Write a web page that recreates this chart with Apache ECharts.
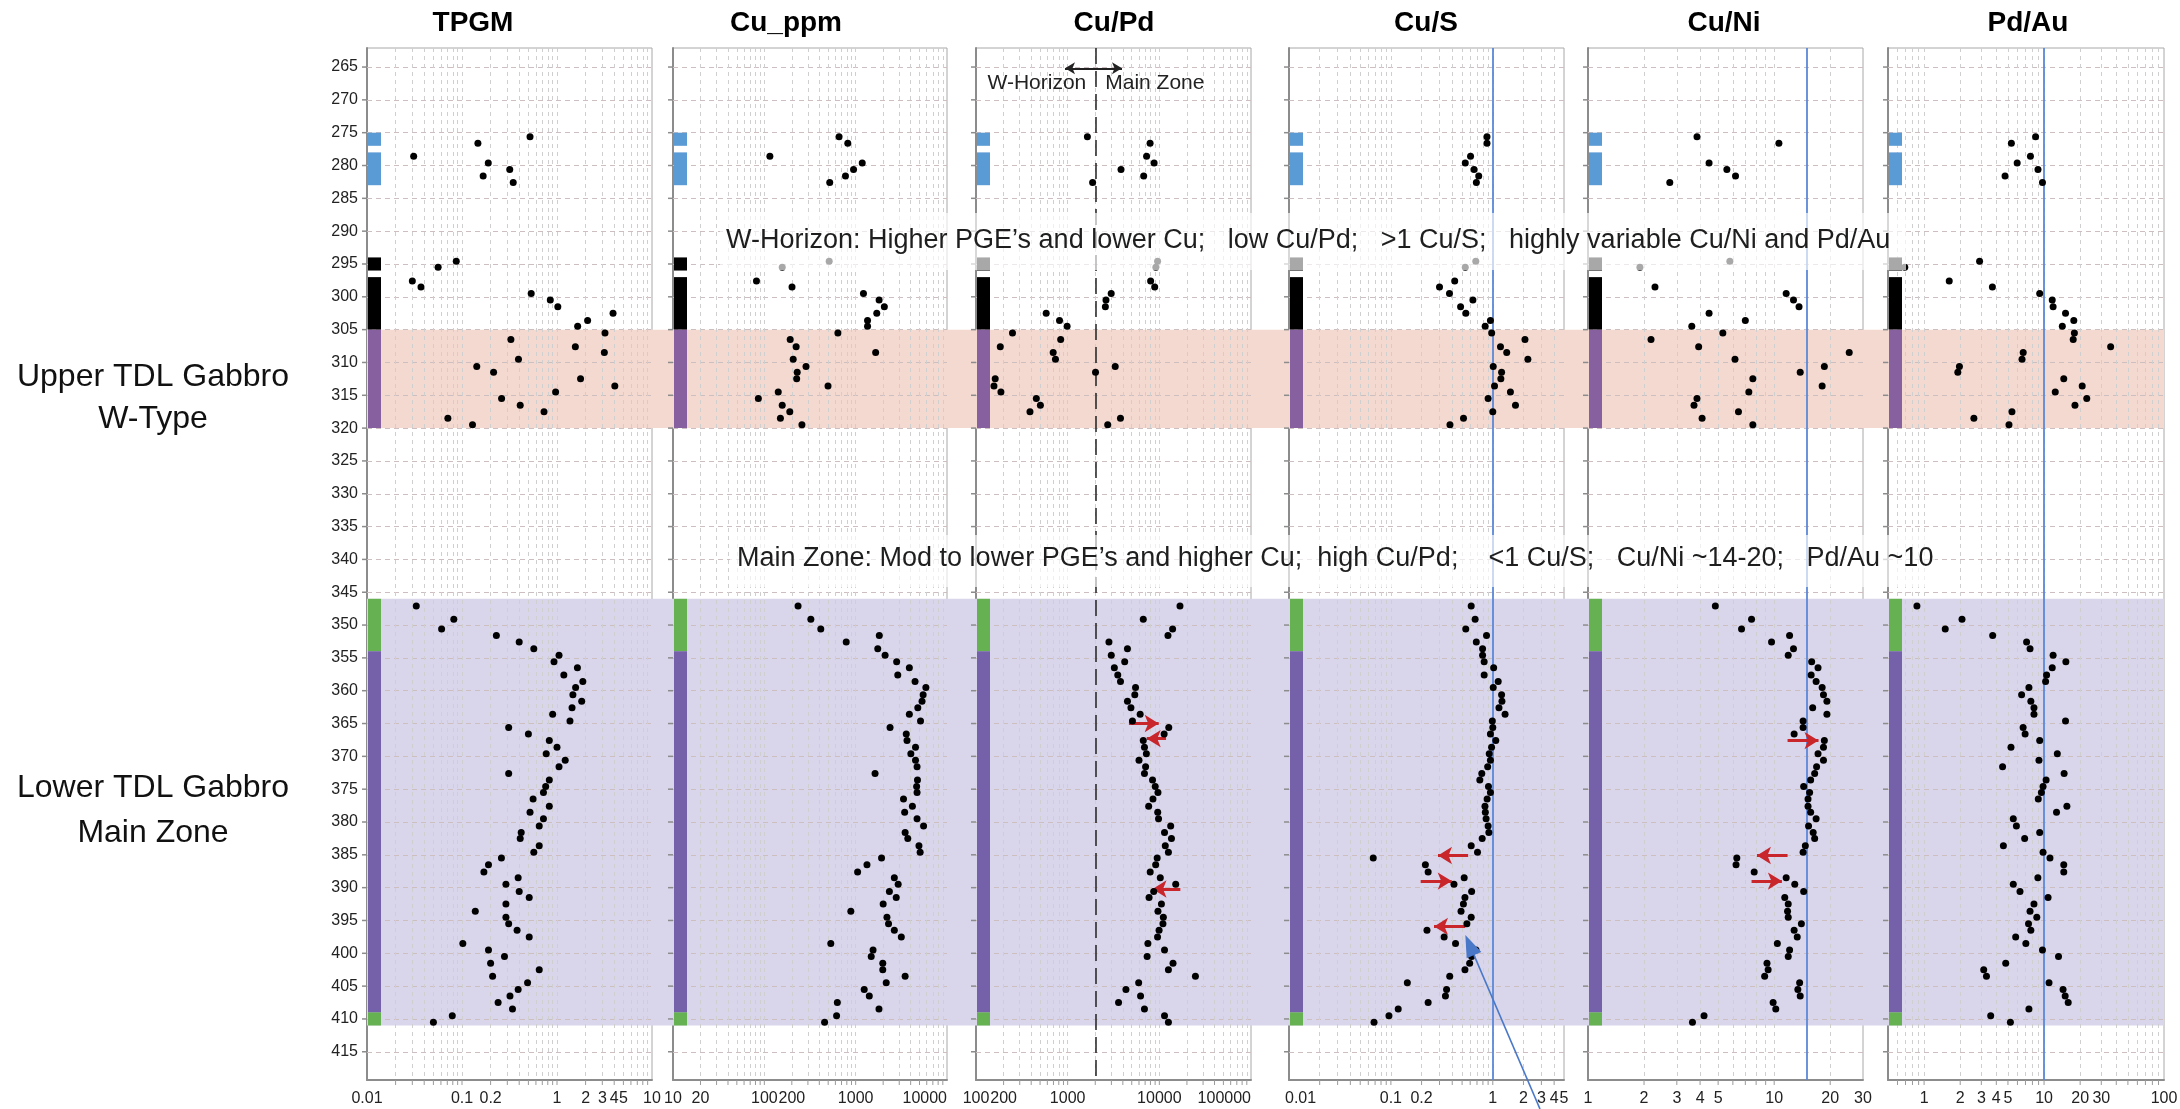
<!DOCTYPE html>
<html>
<head>
<meta charset="utf-8">
<title>TDL Gabbro geochemistry profiles</title>
<script src="https://cdn.jsdelivr.net/npm/echarts@6/dist/echarts.min.js"></script>
<style>
  html, body { margin: 0; padding: 0; background: #fff; }
  #main { width: 2180px; height: 1109px; }
</style>
</head>
<body>
<div id="main"></div>
<script>
// ---- data ----
const panelNames = ['TPGM', 'Cu_ppm', 'Cu/Pd', 'Cu/S', 'Cu/Ni', 'Pd/Au'];
const xMin = [0.01, 10, 100, 0.01, 1, 0.5];
const xMax = [10, 10000, 100000, 5, 30, 100];

const depthTicks = [265, 270, 275, 280, 285, 290, 295, 300, 305, 310, 315, 320, 325, 330, 335, 340,
  345, 350, 355, 360, 365, 370, 375, 380, 385, 390, 395, 400, 405, 410, 415];

const xTickLabels = [
  [0.01, 0.1, 0.2, 1, 2, 3, 4, 5, 10],
  [10, 20, 100, 200, 1000, 10000],
  [100, 200, 1000, 10000, 100000],
  [0.01, 0.1, 0.2, 1, 2, 3, 4, 5],
  [1, 2, 3, 4, 5, 10, 20, 30],
  [1, 2, 3, 4, 5, 10, 20, 30, 100]
];

// upper samples (W-horizon and above)
const upperDepth = [275.6, 276.6, 278.6, 279.6, 280.6, 281.6, 282.6, 294.6, 295.5, 297.6, 298.5,
  299.5, 300.5, 301.5, 302.5, 303.6, 304.5, 305.5, 306.5, 307.6, 308.5, 309.5, 310.6, 311.5,
  312.5, 313.6, 314.5, 315.5, 316.5, 317.5, 318.5, 319.5];
const tpgmUpper = [0.52, 0.147, 0.031, 0.189, 0.318, 0.167, 0.346, 0.087, 0.056, 0.030, 0.037,
  0.535, 0.85, 1.02, 3.89, 2.10, 1.65, 3.20, 0.327, 1.56, 3.15, 0.393, 0.143, 0.215, 1.77, 4.06,
  0.967, 0.261, 0.410, 0.73, 0.071, 0.129];
const cuUpper = [658, 820, 115, 1180, 948, 773, 520, 513, 157, 82, 201, 1217, 1806, 2060, 1702,
  1349, 1349, 639, 192, 223, 1655, 207, 286, 229, 226, 498, 142, 86, 157, 190, 150, 258];
const cuPdUpper = [1641, 7925, 7260, 8770, 3820, 6750, 1871, 9570, 9160, 8035, 8900, 2985, 2618,
  2578, 583, 815, 986, 250, 839, 184, 695, 736, 3300, 2013, 162, 157, 187, 455, 504, 388, 3767, 2735];
const cuSUpper = [0.877, 0.877, 0.605, 0.537, 0.655, 0.728, 0.690, 0.681, 0.537, 0.423, 0.300,
  0.376, 0.638, 0.483, 0.544, 0.948, 0.842, 0.975, 2.07, 1.19, 1.37, 2.21, 1.01, 1.22, 1.20, 1.04,
  1.49, 0.90, 1.67, 1.0, 0.516, 0.380];
const cuNiUpper = [3.85, 10.6, null, 4.47, 5.57, 6.2, 2.75, 5.78, 1.90, null, 2.29, 11.6, 12.7,
  13.6, 4.47, 7.0, 3.61, 5.3, 2.18, 3.93, 25.3, 6.16, 18.6, 13.8, 7.68, 18.1, 7.31, 3.85, 3.71,
  6.43, 4.10, 7.68];
const pdAuUpper = [8.5, 5.34, 7.7, 5.97, 8.9, 4.73, 9.7, 2.9, 0.69, 1.62, 3.71, 9.2, 11.7, 11.9,
  15.1, 17.7, 14.2, 17.9, 17.5, 35.9, 6.7, 6.55, 1.97, 1.91, 14.6, 20.8, 12.4, 22.7, 18.1, 5.4, 2.6, 5.1];

// main zone samples
const mainDepth = [347.1, 349.1, 350.6, 351.6, 352.6, 353.6, 354.6, 355.6, 356.5, 357.6, 358.6,
  359.5, 360.6, 361.6, 362.6, 363.6, 364.6, 365.6, 366.6, 367.6, 368.6, 369.6, 370.6, 371.6, 372.6,
  373.6, 374.6, 375.5, 376.5, 377.6, 378.5, 379.5, 380.6, 381.6, 382.5, 383.6, 384.6, 385.5, 386.5,
  387.6, 388.5, 389.5, 390.6, 391.5, 392.5, 393.6, 394.5, 395.5, 396.5, 397.5, 398.5, 399.5, 400.5,
  401.5, 402.5, 403.5, 404.5, 405.5, 406.5, 407.5, 408.5, 409.5, 410.5];
const tpgmMain = [0.033, 0.082, 0.061, 0.23, 0.40, 0.57, 1.05, 0.93, 1.64, 1.18, 1.87, 1.57, 1.47,
  1.82, 1.44, 0.90, 1.37, 0.31, 0.50, 0.83, 1.00, 0.77, 1.22, 1.05, 0.31, 0.83, 0.76, 0.72, 0.56,
  0.83, 0.52, 0.72, 0.65, 0.42, 0.41, 0.65, 0.57, 0.26, 0.19, 0.17, 0.39, 0.29, 0.40, 0.51, 0.29,
  0.138, 0.29, 0.31, 0.38, 0.51, 0.102, 0.19, 0.28, 0.20, 0.65, 0.21, 0.49, 0.39, 0.32, 0.24, 0.34,
  0.079, 0.050];
const cuMain = [234, 323, 415, 1815, 788, 1745, 2100, 2810, 3870, 2890, 4470, 5870, 5480, 5330,
  4790, 3870, 5130, 2380, 3580, 3650, 4520, 4020, 4520, 4700, 1630, 4750, 4650, 4700, 3340, 4180,
  3440, 4700, 5540, 3480, 3720, 4930, 5080, 1920, 1330, 1050, 2650, 2920, 2340, 2780, 2000, 885,
  2200, 2290, 2650, 3160, 534, 1550, 1480, 1980, 1980, 3480, 2160, 1240, 1410, 630, 1800, 618, 457];
const cuPdMain = [16800, 6680, 13960, 12420, 2820, 4490, 2990, 4190, 3230, 3520, 3770, 5500, 5400,
  4490, 4900, 6180, 5090, 12670, 11280, 6680, 6880, 7220, 6000, 7080, 6880, 8430, 9020, 9660, 8520,
  7650, 9600, 9800, 13300, 11390, 13560, 11610, 12560, 9470, 9120, 7950, 10240, 15090, 8680, 7730,
  10540, 9660, 11060, 10950, 9940, 9560, 7500, 11390, 7360, 14100, 12560, 24760, 5950, 4320, 6240,
  3590, 6880, 11390, 12560];
const cuSMain = [0.614, 0.671, 0.543, 0.868, 0.689, 0.794, 0.794, 0.823, 1.02, 0.823, 1.13, 1.01,
  1.22, 1.23, 1.15, 1.32, 0.99, 1.0, 0.948, 1.07, 0.973, 0.923, 0.948, 0.891, 0.780, 0.746, 0.907,
  0.948, 0.88, 0.838, 0.845, 0.86, 0.90, 0.915, 0.787, 0.614, 0.708, 0.0671, 0.218, 0.232, 0.524,
  0.416, 0.620, 0.533, 0.515, 0.488, 0.614, 0.557, 0.226, 0.333, 0.431, 0.684, 0.620, 0.593, 0.533,
  0.378, 0.145, 0.352, 0.343, 0.232, 0.118, 0.0957, 0.0683];
const cuNiMain = [4.83, 7.56, 6.68, 12.1, 9.68, 12.7, 11.9, 15.9, 17.2, 15.8, 16.8, 18.1, 18.4,
  19.2, 16.1, 19.2, 14.3, 14.3, 12.8, 18.6, 18.4, 17.2, 18.4, 16.9, 16.5, 15.7, 14.4, 15.5, 15.2,
  15.2, 15.7, 16.8, 15.3, 16.2, 16.5, 14.7, 14.3, 6.30, 6.24, 7.81, 11.6, 12.9, 14.4, 11.4, 11.9,
  11.8, 11.9, 14.0, 12.8, 13.3, 10.4, 12.1, 11.9, 9.15, 9.28, 8.89, 13.7, 13.4, 13.8, 9.87, 10.2,
  4.20, 3.64];
const pdAuMain = [0.871, 2.07, 1.50, 3.73, 7.15, 7.64, 11.9, 15.2, 11.7, 10.5, 10.3, 7.48, 6.50,
  7.76, 8.24, 8.24, 15.1, 6.69, 6.95, 9.2, 5.30, 12.9, 9.07, 4.51, 14.7, 10.4, 9.81, 9.5, 8.95,
  15.5, 12.7, 5.54, 5.88, 9.2, 6.89, 4.58, 9.81, 11.2, 14.6, 14.6, 8.88, 5.54, 6.3, 10.8, 8.24,
  7.64, 8.7, 7.42, 7.76, 5.8, 7.05, 9.7, 13.2, 4.79, 3.14, 3.31, 11.0, 14.4, 15.0, 15.9, 7.48,
  3.59, 5.24];

// lithology strip on the left of every panel
const stripFrom = [275, 278, 294, 297, 305, 346, 354, 409];
const stripTo = [277, 283, 296, 305, 320, 354, 409, 411];
const stripUnit = ['blue', 'blue', 'black', 'black', 'purpleW', 'green', 'purple', 'green'];

// shaded zones
const zoneFrom = [305, 346];
const zoneTo = [320, 411];

// reference lines: Cu/Pd divider, Cu/S = 1, Cu/Ni = 15, Pd/Au = 10
const refPanel = [2, 3, 4, 5];
const refValue = [2000, 1, 15, 10];

// red arrows
const arrowPanel = [2, 2, 2, 3, 3, 3, 4, 4, 4];
const arrowFrom = [4660, 11840, 16950, 0.573, 0.196, 0.538, 11.8, 11.8, 7.56];
const arrowTo = [9840, 7290, 8430, 0.290, 0.395, 0.265, 17.3, 8.08, 11.0];
const arrowDepth = [365.0, 367.3, 390.2, 385.1, 389.0, 395.9, 367.6, 385.1, 389.0];

const noteW = 'W-Horizon: Higher PGE\u2019s and lower Cu;   low Cu/Pd;   >1 Cu/S;   highly variable Cu/Ni and Pd/Au';
const noteMain = 'Main Zone: Mod to lower PGE\u2019s and higher Cu;  high Cu/Pd;    <1 Cu/S;   Cu/Ni ~14-20;   Pd/Au ~10';

// ---- layout ----
const gridLeft = [367, 673, 976, 1289, 1588, 1888];
const gridWidth = [285, 274, 275, 275, 275, 276];
const gridTop = 48;
const gridHeight = 1032;
const titleX = [473, 786, 1114, 1426, 1724, 2028];
const FONT = "'Liberation Sans', Arial, sans-serif";
const stripColors = { blue: '#5b9bd5', black: '#000000', purpleW: '#87609f', purple: '#7560aa', green: '#66b252' };

const upperVals = [tpgmUpper, cuUpper, cuPdUpper, cuSUpper, cuNiUpper, pdAuUpper];
const mainVals = [tpgmMain, cuMain, cuPdMain, cuSMain, cuNiMain, pdAuMain];

function logGridValues(min, max) {
  const out = [];
  for (let e = Math.floor(Math.log10(min)); e <= Math.ceil(Math.log10(max)); e++) {
    for (let n = 1; n <= 9; n++) {
      const v = +(n * Math.pow(10, e)).toPrecision(6);
      if (v > min * 1.0001 && v < max * 0.9999) out.push(v);
    }
  }
  return out;
}

const chart = echarts.init(document.getElementById('main'));

const grids = [], xAxes = [], yAxes = [], series = [];
for (let i = 0; i < 6; i++) {
  grids.push({
    left: gridLeft[i], width: gridWidth[i], top: gridTop, height: gridHeight,
    show: true, borderColor: '#a8a8a8', borderWidth: 1, backgroundColor: 'transparent'
  });
  xAxes.push({
    type: 'log', logBase: 10, gridIndex: i, min: xMin[i], max: xMax[i],
    axisLine: { show: true, onZero: false, lineStyle: { color: '#8c8c8c', width: 2 } },
    axisTick: { show: false }, axisLabel: { show: false }, splitLine: { show: false }
  });
  yAxes.push({
    type: 'value', gridIndex: i, inverse: true, min: 262.1, max: 419.3,
    axisLine: { show: true, lineStyle: { color: '#8c8c8c', width: 2 } },
    axisTick: { show: false }, axisLabel: { show: false }, splitLine: { show: false }
  });

  const pts = [];
  upperDepth.forEach((d, j) => { if (upperVals[i][j] != null) pts.push([upperVals[i][j], d]); });
  mainDepth.forEach((d, j) => pts.push([mainVals[i][j], d]));

  // grid lines, reference lines and arrows
  const lines = [];
  depthTicks.forEach(d => lines.push({ yAxis: d, lineStyle: { color: '#cdbfbf', width: 1, type: [5, 4] } }));
  logGridValues(xMin[i], xMax[i]).forEach(v =>
    lines.push({ xAxis: v, lineStyle: { color: '#cfcfcf', width: 1, type: [4, 4] } }));
  refPanel.forEach((p, k) => {
    if (p !== i) return;
    if (i === 2) lines.push({ xAxis: refValue[k], lineStyle: { color: '#222', width: 1.5, type: [16, 7] } });
    else lines.push({ xAxis: refValue[k], lineStyle: { color: '#5b88d8', width: 1.8, type: 'solid' } });
  });
  arrowPanel.forEach((p, k) => {
    if (p !== i) return;
    const ls = { color: '#c8262b', width: 3, type: 'solid' };
    lines.push([
      { coord: [arrowFrom[k], arrowDepth[k]], symbol: 'none', lineStyle: ls },
      { coord: [arrowTo[k], arrowDepth[k]], symbol: 'arrow', symbolSize: [13, 14], lineStyle: ls }
    ]);
  });
  if (i === 2) {
    const ls = { color: '#222', width: 2, type: 'solid' };
    lines.push([
      { coord: [935, 265.2], symbol: 'arrow', symbolSize: [9, 10], lineStyle: ls },
      { coord: [3915, 265.2], symbol: 'arrow', symbolSize: [9, 10], lineStyle: ls }
    ]);
  }

  series.push({
    name: panelNames[i], type: 'scatter', xAxisIndex: i, yAxisIndex: i,
    data: pts, symbolSize: 7, itemStyle: { color: '#000', opacity: 1 }, z: 7, silent: true,
    markLine: {
      silent: true, symbol: 'none', z: 2, animation: false,
      label: { show: false }, emphasis: { disabled: true },
      data: lines
    }
  });
}

chart.setOption({
  animation: false,
  backgroundColor: '#ffffff',
  grid: grids, xAxis: xAxes, yAxis: yAxes, series: series
});

// ---- decorations placed through the axes ----
const py = d => chart.convertToPixel({ yAxisIndex: 0 }, d);
const pxv = (i, v) => chart.convertToPixel({ xAxisIndex: i }, v);
const plotLeft = gridLeft[0], plotRight = gridLeft[5] + gridWidth[5];
const plotBottom = gridTop + gridHeight;
const g = [];

// shaded zones
const zoneColors = ['#f3d9cf', '#d9d6eb'];
zoneFrom.forEach((d0, k) => {
  g.push({ type: 'rect', z: 1, silent: true,
    shape: { x: plotLeft, y: py(d0), width: plotRight - plotLeft, height: py(zoneTo[k]) - py(d0) },
    style: { fill: zoneColors[k] } });
});

for (let i = 0; i < 6; i++) {
  // lithology strip
  stripFrom.forEach((d0, k) => {
    g.push({ type: 'rect', z: 6, silent: true,
      shape: { x: gridLeft[i] + 1, y: py(d0), width: 13, height: py(stripTo[k]) - py(d0) },
      style: { fill: stripColors[stripUnit[k]] } });
  });
  // depth ticks on the left of each panel
  depthTicks.forEach(d => {
    g.push({ type: 'line', z: 6, silent: true,
      shape: { x1: gridLeft[i] - 5, y1: py(d), x2: gridLeft[i], y2: py(d) },
      style: { stroke: '#8c8c8c', lineWidth: 1.5 } });
  });
  // bottom ticks at every log grid value
  logGridValues(xMin[i], xMax[i]).forEach(v => {
    const x = pxv(i, v);
    g.push({ type: 'line', z: 6, silent: true,
      shape: { x1: x, y1: plotBottom, x2: x, y2: plotBottom + 5 },
      style: { stroke: '#9a9a9a', lineWidth: 1 } });
  });
  // x tick labels
  xTickLabels[i].forEach((v, k) => {
    let align = 'center';
    if ((i === 1 || i === 2) && k === xTickLabels[i].length - 1) align = 'right';
    if (i === 3 && k === 0) align = 'left';
    g.push({ type: 'text', z: 6, silent: true,
      x: pxv(i, v) + (align === 'left' ? -4 : 0), y: 1099,
      style: { text: String(v), fill: '#222', font: '16px ' + FONT, textAlign: align, textVerticalAlign: 'middle' } });
  });
  // panel title
  g.push({ type: 'text', z: 6, silent: true, x: titleX[i], y: 23,
    style: { text: panelNames[i], fill: '#000', font: 'bold 28px ' + FONT, textAlign: 'center', textVerticalAlign: 'middle' } });
}

// depth labels
depthTicks.forEach(d => {
  g.push({ type: 'text', z: 6, silent: true, x: 358, y: py(d),
    style: { text: String(d), fill: '#222', font: '16px ' + FONT, textAlign: 'right', textVerticalAlign: 'middle' } });
});

// unit labels on the far left
[['Upper TDL Gabbro', 377], ['W-Type', 419], ['Lower TDL Gabbro', 788], ['Main Zone', 833]].forEach(t => {
  g.push({ type: 'text', z: 6, silent: true, x: 153, y: t[1],
    style: { text: t[0], fill: '#111', font: '32px ' + FONT, textAlign: 'center', textVerticalAlign: 'middle' } });
});

// W-Horizon | Main Zone labels in Cu/Pd panel
const divX = pxv(2, 2000);
g.push({ type: 'text', z: 8, silent: true, x: divX - 9, y: py(267.5),
  style: { text: 'W-Horizon', fill: '#222', font: '21px ' + FONT, textAlign: 'right', textVerticalAlign: 'middle' } });
g.push({ type: 'text', z: 8, silent: true, x: divX + 10, y: py(267.5),
  style: { text: 'Main Zone', fill: '#222', font: '21px ' + FONT, textAlign: 'left', textVerticalAlign: 'middle' } });

// note boxes
g.push({ type: 'rect', z: 20, silent: true, shape: { x: 720, y: 213, width: 1186, height: 57 },
  style: { fill: 'rgba(255,255,255,0.66)' } });
g.push({ type: 'text', z: 21, silent: true, x: 726, y: 241,
  style: { text: noteW, fill: '#1e1e1e', font: '27px ' + FONT, textAlign: 'left', textVerticalAlign: 'middle' } });
g.push({ type: 'rect', z: 20, silent: true, shape: { x: 730, y: 535, width: 1205, height: 52 },
  style: { fill: 'rgba(255,255,255,0.66)' } });
g.push({ type: 'text', z: 21, silent: true, x: 737, y: 559,
  style: { text: noteMain, fill: '#1e1e1e', font: '27px ' + FONT, textAlign: 'left', textVerticalAlign: 'middle' } });

// blue pointer arrow in Cu/S panel
const tip = chart.convertToPixel({ gridIndex: 3 }, [0.538, 397.2]);
const tail = [1540, 1109];
const dx = tip[0] - tail[0], dy = tip[1] - tail[1];
const len = Math.sqrt(dx * dx + dy * dy), ux = dx / len, uy = dy / len;
const headL = 22, headW = 8;
const base = [tip[0] - ux * headL, tip[1] - uy * headL];
g.push({ type: 'line', z: 9, silent: true,
  shape: { x1: tail[0], y1: tail[1], x2: base[0], y2: base[1] },
  style: { stroke: '#4a78c8', lineWidth: 1.6 } });
g.push({ type: 'polygon', z: 9, silent: true,
  shape: { points: [tip, [base[0] - uy * headW, base[1] + ux * headW], [base[0] + uy * headW, base[1] - ux * headW]] },
  style: { fill: '#4a78c8' } });

chart.setOption({ graphic: { elements: g } });
</script>
</body>
</html>
